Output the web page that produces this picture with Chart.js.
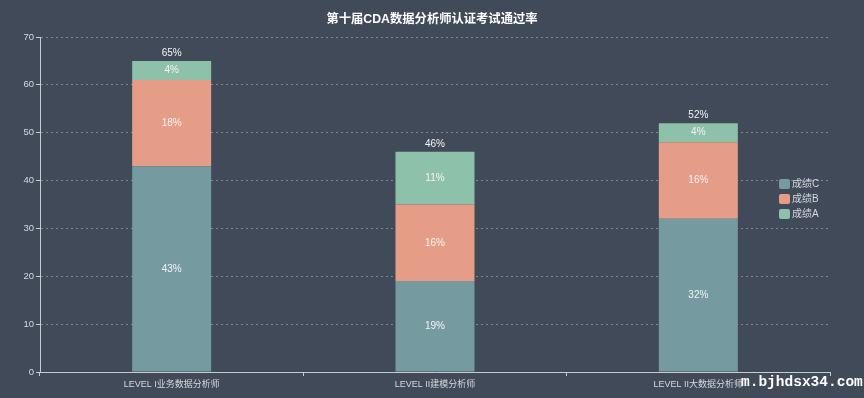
<!DOCTYPE html>
<html>
<head>
<meta charset="utf-8">
<script src="https://cdn.jsdelivr.net/npm/chart.js@4/dist/chart.umd.min.js"></script>
<style>
  html, body { margin: 0; padding: 0; background: #404a59; }
  #wrap { width: 864px; height: 398px; position: relative; }
</style>
</head>
<body>
<div id="wrap"><canvas id="c" width="864" height="398"></canvas></div>
<script>
// Pass rates of the 10th CDA certification exam, by level and grade
const titleText = '第十届CDA数据分析师认证考试通过率';
const categories = ['LEVEL I业务数据分析师', 'LEVEL II建模分析师', 'LEVEL II大数据分析师'];
const gradeC = [43, 19, 32];
const gradeB = [18, 16, 16];
const gradeA = [4, 11, 4];
const totals = [65, 46, 52];
const yTicks = [0, 10, 20, 30, 40, 50, 60, 70];

const FONT = '"Liberation Sans", "Noto Sans CJK SC", sans-serif';
const TEXT = '#d6d9de';

// Title centred over the whole canvas
const headTitle = {
  id: 'headTitle',
  afterDraw(chart) {
    const ctx = chart.ctx;
    ctx.save();
    ctx.font = 'bold 12.3px ' + FONT;
    ctx.textAlign = 'center';
    ctx.textBaseline = 'middle';
    ctx.fillStyle = '#ffffff';
    ctx.fillText(titleText, chart.width / 2, 20);
    ctx.restore();
  }
};

// Labels inside each segment and the total above each stack
const valueLabels = {
  id: 'valueLabels',
  afterDatasetsDraw(chart) {
    const ctx = chart.ctx;
    ctx.save();
    ctx.font = '10px ' + FONT;
    ctx.textAlign = 'center';
    ctx.textBaseline = 'middle';
    ctx.fillStyle = '#f4f4f4';
    chart.data.datasets.forEach((ds, di) => {
      chart.getDatasetMeta(di).data.forEach((bar, i) => {
        const mid = (bar.y + bar.base) / 2;
        ctx.fillText(ds.data[i] + '%', bar.x, mid);
      });
    });
    const last = chart.getDatasetMeta(chart.data.datasets.length - 1).data;
    last.forEach((bar, i) => {
      ctx.fillText(totals[i] + '%', bar.x, bar.y - 8);
    });
    ctx.restore();
  }
};

// Vertical legend placed over the right edge of the plot
const sideLegend = {
  id: 'sideLegend',
  afterDraw(chart) {
    const ctx = chart.ctx;
    ctx.save();
    ctx.font = '10px ' + FONT;
    ctx.textBaseline = 'middle';
    ctx.textAlign = 'left';
    chart.data.datasets.forEach((ds, k) => {
      const y = 184 + k * 15;
      ctx.fillStyle = ds.backgroundColor;
      ctx.beginPath();
      ctx.roundRect(779, y - 5, 11, 10, 2);
      ctx.fill();
      ctx.fillStyle = TEXT;
      ctx.fillText(ds.label, 792, y);
    });
    ctx.restore();
  }
};

// Site mark in the lower right corner
const siteMark = {
  id: 'siteMark',
  afterDraw(chart) {
    const ctx = chart.ctx;
    ctx.save();
    ctx.font = 'bold 14.5px "Liberation Mono", "DejaVu Sans Mono", monospace';
    ctx.textAlign = 'left';
    ctx.textBaseline = 'middle';
    ctx.fillStyle = '#ffffff';
    ctx.fillText('m.bjhdsx34.com', 741, 382);
    ctx.restore();
  }
};

new Chart(document.getElementById('c'), {
  type: 'bar',
  data: {
    labels: categories,
    datasets: [
      { label: '成绩C', data: gradeC, backgroundColor: '#759aa0' },
      { label: '成绩B', data: gradeB, backgroundColor: '#e69d87' },
      { label: '成绩A', data: gradeA, backgroundColor: '#8dc1a9' }
    ]
  },
  options: {
    responsive: false,
    animation: false,
    layout: { padding: { left: 0, right: 34, top: 37, bottom: 0 } },
    datasets: { bar: { categoryPercentage: 1.0, barPercentage: 0.3, borderWidth: 0 } },
    plugins: {
      legend: { display: false },
      tooltip: { enabled: false },
      title: { display: false }
    },
    scales: {
      x: {
        stacked: true,
        offset: true,
        grid: { display: true, drawOnChartArea: false, drawTicks: true, tickLength: 4, color: '#c8ccd2', offset: true },
        border: { display: true, color: '#c8ccd2', width: 1 },
        ticks: { color: TEXT, font: { family: FONT, size: 9 }, padding: 3, maxRotation: 0, autoSkip: false },
        afterFit(s) { s.height = 26; }
      },
      y: {
        stacked: true,
        min: 0,
        max: 70,
        afterBuildTicks(s) { s.ticks = yTicks.map(v => ({ value: v })); },
        grid: {
          color: '#7f8793',
          drawTicks: true,
          tickLength: 4,
          tickColor: '#c8ccd2'
        },
        border: { display: true, color: '#c8ccd2', width: 1, dash: [2, 3] },
        ticks: { color: TEXT, font: { family: FONT, size: 9.5 }, padding: 2 },
        afterFit(s) { s.width = 40; }
      }
    }
  },
  plugins: [valueLabels, sideLegend, siteMark, headTitle]
});
</script>
</body>
</html>
